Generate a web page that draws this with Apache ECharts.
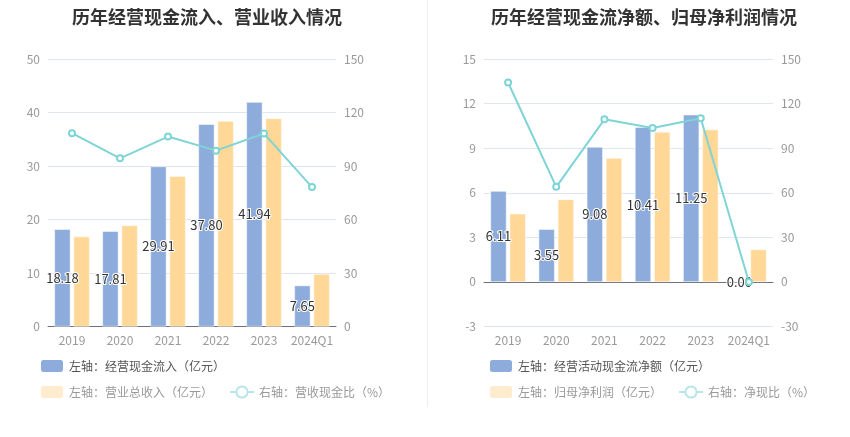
<!DOCTYPE html>
<html>
<head>
<meta charset="utf-8">
<script src="https://cdn.jsdelivr.net/npm/echarts@6/dist/echarts.min.js"></script>
<style>
html,body{margin:0;padding:0;background:#fff;}
#main{width:850px;height:437px;}
</style>
</head>
<body>
<div id="main"></div>
<script>
const categories = ['2019', '2020', '2021', '2022', '2023', '2024Q1'];
const cashInflow = [18.18, 17.81, 29.91, 37.80, 41.94, 7.65];
const revenue = [16.8, 18.9, 28.1, 38.4, 38.9, 9.8];
const inflowRatio = [108.4, 94.3, 106.5, 98.6, 108.2, 78.2];
const netCash = [6.11, 3.55, 9.08, 10.41, 11.25, 0.00];
const netProfit = [4.59, 5.55, 8.33, 10.09, 10.25, 2.18];
const netRatio = [134.2, 64.0, 109.4, 103.6, 110.1, 0];

const FONT = '"Noto Sans CJK SC", "Microsoft YaHei", sans-serif';
const BLUE = '#8DACDB';
const ORANGE = '#FFD797';
const TEAL = '#7FD4D6';
const PALE_TEAL = '#B8E6E8';
const labelGrey = '#999';

const chart = echarts.init(document.getElementById('main'));

const barLabel = {
  show: true,
  position: 'inside',
  color: '#333',
  fontSize: 13,
  textBorderColor: '#fff',
  textBorderWidth: 2,
  formatter: p => p.value.toFixed(2)
};

function valueAxis(gridIndex, min, max, interval, pos, split) {
  return {
    type: 'value', gridIndex, min, max, interval, position: pos,
    axisLine: { show: false }, axisTick: { show: false },
    axisLabel: { color: labelGrey, fontSize: 12, margin: 8, fontFamily: FONT },
    splitLine: { show: split, lineStyle: { color: '#E0E6F1' } }
  };
}

const option = {
  animation: false,
  textStyle: { fontFamily: FONT },
  title: [
    { text: '历年经营现金流入、营业收入情况', left: 67, top: 3,
      textStyle: { fontSize: 18, fontWeight: 'bold', color: '#333', fontFamily: FONT } },
    { text: '历年经营现金流净额、归母净利润情况', left: 486, top: 3,
      textStyle: { fontSize: 18, fontWeight: 'bold', color: '#333', fontFamily: FONT } }
  ],
  graphic: [
    { type: 'line', shape: { x1: 427.5, y1: 0, x2: 427.5, y2: 407 }, style: { stroke: '#EEEEEE', lineWidth: 1 } }
  ],
  legend: [
    { left: 34, top: 353, itemWidth: 24, itemHeight: 14, icon: 'roundRect',
      textStyle: { fontSize: 12, color: '#555', fontFamily: FONT },
      data: [{ name: '左轴：经营现金流入（亿元）', itemStyle: { color: BLUE } }] },
    { left: 34, top: 379, itemWidth: 24, itemHeight: 14, itemGap: 16,
      textStyle: { fontSize: 12, color: '#999', fontFamily: FONT },
      data: [
        { name: '左轴：营业总收入（亿元）', icon: 'roundRect', itemStyle: { color: '#FFEBCD' } },
        { name: '右轴：营收现金比（%）', itemStyle: { color: PALE_TEAL }, lineStyle: { color: PALE_TEAL, type: 'solid' } }
      ] },
    { left: 483, top: 353, itemWidth: 24, itemHeight: 14, icon: 'roundRect',
      textStyle: { fontSize: 12, color: '#555', fontFamily: FONT },
      data: [{ name: '左轴：经营活动现金流净额（亿元）', itemStyle: { color: BLUE } }] },
    { left: 483, top: 379, itemWidth: 24, itemHeight: 14, itemGap: 16,
      textStyle: { fontSize: 12, color: '#999', fontFamily: FONT },
      data: [
        { name: '左轴：归母净利润（亿元）', icon: 'roundRect', itemStyle: { color: '#FFEBCD' } },
        { name: '右轴：净现比（%）', itemStyle: { color: PALE_TEAL }, lineStyle: { color: PALE_TEAL, type: 'solid' } }
      ] }
  ],
  grid: [
    { left: 48, right: 514, top: 59, bottom: 110.5 },
    { left: 484, right: 77, top: 59, bottom: 110.5 }
  ],
  xAxis: [
    { type: 'category', gridIndex: 0, data: categories,
      axisLine: { lineStyle: { color: '#6E7079' } },
      axisTick: { alignWithLabel: true, lineStyle: { color: '#6E7079' } },
      axisLabel: { color: labelGrey, fontSize: 12, margin: 8, interval: 0, fontFamily: FONT } },
    { type: 'category', gridIndex: 1, data: categories, position: 'bottom',
      axisLine: { show: false, onZero: false }, axisTick: { show: false },
      axisLabel: { color: labelGrey, fontSize: 12, margin: 8, interval: 0, fontFamily: FONT } },
    { type: 'category', gridIndex: 1, data: categories, position: 'bottom',
      axisLine: { onZero: true, lineStyle: { color: '#6E7079' } },
      axisTick: { alignWithLabel: true, interval: 0, lineStyle: { color: '#6E7079' } },
      axisLabel: { show: false } }
  ],
  yAxis: [
    valueAxis(0, 0, 50, 10, 'left', true),
    valueAxis(0, 0, 150, 30, 'right', false),
    valueAxis(1, -3, 15, 3, 'left', true),
    valueAxis(1, -30, 150, 30, 'right', false)
  ],
  series: [
    { name: '左轴：经营现金流入（亿元）', type: 'bar', xAxisIndex: 0, yAxisIndex: 0,
      data: cashInflow, barWidth: 16, barGap: '20%',
      itemStyle: { color: BLUE, borderColor: '#fff', borderWidth: 0.5 }, label: barLabel, z: 3 },
    { name: '左轴：营业总收入（亿元）', type: 'bar', xAxisIndex: 0, yAxisIndex: 0,
      data: revenue, barWidth: 16, barGap: '20%',
      itemStyle: { color: ORANGE, borderColor: '#fff', borderWidth: 0.5 }, z: 2 },
    { name: '右轴：营收现金比（%）', type: 'line', xAxisIndex: 0, yAxisIndex: 1,
      data: inflowRatio, symbol: 'emptyCircle', symbolSize: 6,
      lineStyle: { color: TEAL, width: 2 }, itemStyle: { color: TEAL }, z: 4 },
    { name: '左轴：经营活动现金流净额（亿元）', type: 'bar', xAxisIndex: 2, yAxisIndex: 2,
      data: netCash, barWidth: 16, barGap: '20%',
      itemStyle: { color: BLUE, borderColor: '#fff', borderWidth: 0.5 }, label: barLabel, z: 3 },
    { name: '左轴：归母净利润（亿元）', type: 'bar', xAxisIndex: 2, yAxisIndex: 2,
      data: netProfit, barWidth: 16, barGap: '20%',
      itemStyle: { color: ORANGE, borderColor: '#fff', borderWidth: 0.5 }, z: 2 },
    { name: '右轴：净现比（%）', type: 'line', xAxisIndex: 2, yAxisIndex: 3,
      data: netRatio, symbol: 'emptyCircle', symbolSize: 6,
      lineStyle: { color: TEAL, width: 2 }, itemStyle: { color: TEAL }, z: 4 }
  ]
};
chart.setOption(option);
</script>
</body>
</html>
